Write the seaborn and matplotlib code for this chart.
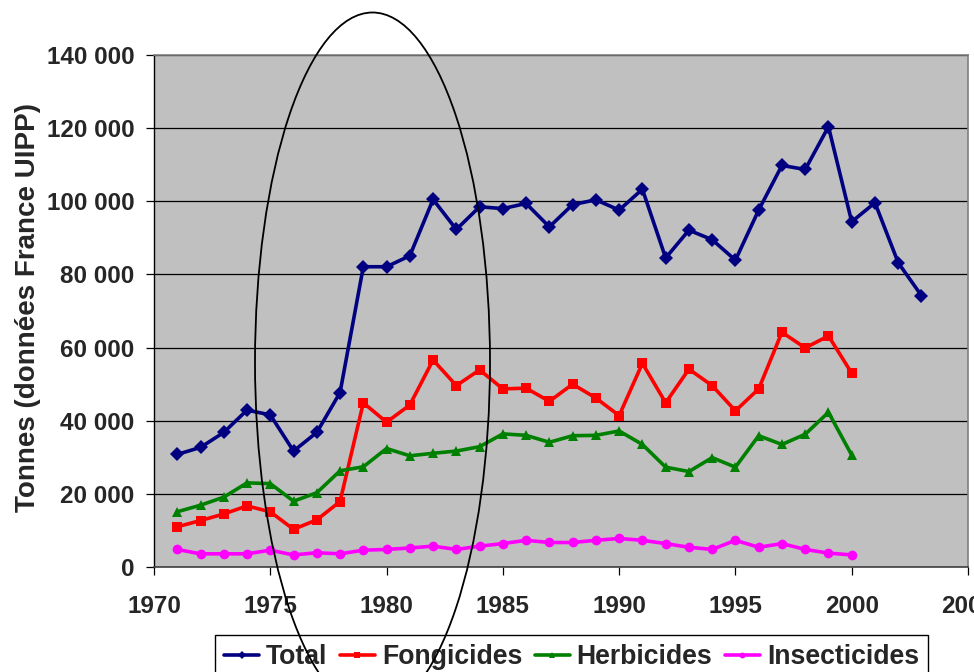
import matplotlib
matplotlib.use("Agg")
import matplotlib.pyplot as plt
from matplotlib.patches import Ellipse
from matplotlib.ticker import FuncFormatter, MultipleLocator
import seaborn as sns
import pandas as pd

# data (tonnes)
years_total = list(range(1971, 2004))
years_sub = list(range(1971, 2001))

total = [30800, 32700, 36800, 42900, 41600, 31700, 36800, 47700, 82100, 82100,
         85100, 100500, 92300, 98500, 98000, 99400, 93000, 99100, 100400, 97600,
         103300, 84500, 92100, 89500, 83900, 97600, 109800, 108700, 120400, 94400,
         99600, 83200, 74200]
fongicides = [11000, 12700, 14500, 16700, 15100, 10300, 12900, 17900, 44900, 39600,
              44300, 56600, 49600, 53900, 48700, 48900, 45300, 50000, 46200, 41400,
              55700, 44900, 54100, 49600, 42700, 48700, 64200, 59900, 63200, 53000]
herbicides = [15100, 16900, 19100, 23000, 22800, 18000, 20300, 26300, 27400, 32400,
              30400, 31100, 31700, 32900, 36400, 36000, 34100, 35900, 36000, 37200,
              33500, 27300, 26100, 29900, 27300, 35900, 33500, 36300, 42300, 30600]
insecticides = [4800, 3600, 3600, 3600, 4600, 3300, 3900, 3600, 4600, 4800,
                5200, 5700, 4800, 5700, 6400, 7300, 6700, 6700, 7300, 7800,
                7300, 6400, 5400, 4800, 7300, 5400, 6400, 4800, 3800, 3300]

series = ["Total", "Fongicides", "Herbicides", "Insecticides"]
colors = {"Total": "#000080", "Fongicides": "#FF0000",
          "Herbicides": "#008000", "Insecticides": "#FF00FF"}
markers = {"Total": "D", "Fongicides": "s", "Herbicides": "^", "Insecticides": "o"}
msizes = {"Total": 7.5, "Fongicides": 7, "Herbicides": 7.5, "Insecticides": 7}

df = pd.concat([
    pd.DataFrame({"annee": years_total, "tonnes": total, "serie": "Total"}),
    pd.DataFrame({"annee": years_sub, "tonnes": fongicides, "serie": "Fongicides"}),
    pd.DataFrame({"annee": years_sub, "tonnes": herbicides, "serie": "Herbicides"}),
    pd.DataFrame({"annee": years_sub, "tonnes": insecticides, "serie": "Insecticides"}),
])

sns.set_style("ticks")
plt.rcParams["font.family"] = ["Liberation Sans", "DejaVu Sans"]
plt.rcParams["font.weight"] = "bold"

fig = plt.figure(figsize=(9.74, 6.72), dpi=100)
ax = fig.add_axes([154 / 974, 1 - 567 / 672, 814 / 974, 512 / 672])
ax.set_facecolor("#C0C0C0")

for name in series:
    sns.lineplot(data=df[df["serie"] == name], x="annee", y="tonnes", ax=ax,
                 color=colors[name], marker=markers[name], markersize=msizes[name],
                 markeredgewidth=0, linewidth=2.6, label=name, legend=False)

ax.set_xlim(1970, 2005)
ax.set_ylim(0, 140000)
ax.xaxis.set_major_locator(MultipleLocator(5))
ax.yaxis.set_major_locator(MultipleLocator(20000))
ax.yaxis.set_major_formatter(FuncFormatter(lambda v, p: f"{int(v):,}".replace(",", " ")))
ax.yaxis.grid(True, color="black", linewidth=0.9)
ax.set_axisbelow(True)
ax.set_xlabel("")
ax.set_ylabel("")

ax.tick_params(axis="both", direction="out", length=6, width=0.9, color="black",
               labelsize=17.5)
ax.tick_params(axis="y", pad=8)
ax.tick_params(axis="x", pad=14)
for lab in ax.get_xticklabels() + ax.get_yticklabels():
    lab.set_fontweight("bold")

for side in ["top", "right"]:
    ax.spines[side].set_visible(True)
    ax.spines[side].set_color("#808080")
    ax.spines[side].set_linewidth(1.2)
ax.spines["left"].set_color("black")
ax.spines["bottom"].set_color("#404040")
ax.spines["left"].set_linewidth(1.0)
ax.spines["bottom"].set_linewidth(1.2)

fig.text(28 / 974, 1 - 307 / 672, "Tonnes (données France UIPP)", rotation=90,
         ha="center", va="center", fontsize=20, fontweight="bold")

handles = ax.lines[:4]
leg = fig.legend(handles, series, loc="upper left",
                 bbox_to_anchor=(215 / 974, 1 - 635 / 672), ncol=4,
                 frameon=True, fancybox=False, edgecolor="black", framealpha=1,
                 handlelength=1.3, handletextpad=0.27, columnspacing=0.47,
                 borderpad=0.35, borderaxespad=0, markerscale=0.6,
                 prop={"weight": "bold", "size": 19.2})
leg.get_frame().set_linewidth(1.0)

ell = Ellipse((372.5 / 974, 1 - 362 / 672), 235 / 974, 699 / 672,
              transform=fig.transFigure, fill=False, edgecolor="black",
              linewidth=1.3, zorder=10)
fig.add_artist(ell)

fig.savefig("out.png", dpi=100)
